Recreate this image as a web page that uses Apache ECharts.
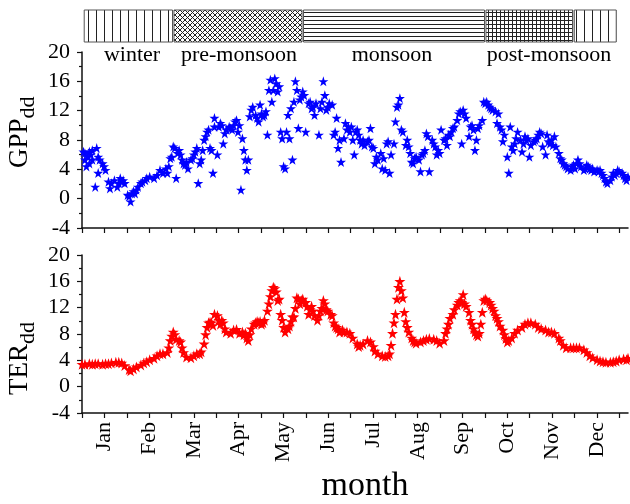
<!DOCTYPE html>
<html><head><meta charset="utf-8">
<script src="https://cdn.jsdelivr.net/npm/echarts@6/dist/echarts.min.js"></script>
<style>html,body{margin:0;padding:0;background:#fff}#c{width:630px;height:504px}</style>
</head><body><div id="c"></div>
<script>
// ---- data (day of year, value) ----
const months = ['Jan','Feb','Mar','Apr','May','Jun','Jul','Aug','Sep','Oct','Nov','Dec'];
const yMin = -4, yMax = 20, yStep = 4;

const gppPoints = [
[1,6.4],[2,5.3],[2,6.2],[3,4.4],[4,5.7],[5,4.8],[5,6.4],[6,6.0],[7,5.3],[7,6.6],[9,1.6],[10,6.9],[11,3.5],[11,5.7],[12,5.3],[14,4.8],[15,4.4],[16,3.9],[18,2.3],[19,1.4],[20,2.1],[22,2.5],[24,1.6],[25,2.1],[26,2.8],[27,2.3],[28,2.5],[29,2.1],
[31,0.5],[32,0.3],[33,-0.4],[34,0.7],[35,1.0],[36,0.7],[37,1.2],[38,1.6],[40,2.1],[41,2.3],[43,2.5],[44,2.8],[46,3.0],[49,2.8],[51,3.2],[53,3.9],[55,3.5],[57,4.1],[58,3.5],[59,4.4],
[60,5.5],[61,5.7],[62,7.1],[63,6.9],[64,2.8],[65,6.2],[66,6.6],[67,6.0],[68,5.3],[69,4.8],[70,4.6],[71,5.0],[72,4.1],[74,5.3],[75,5.5],[76,6.0],[77,6.4],[78,6.9],[79,2.1],[80,4.8],[81,5.3],[82,6.6],[83,8.0],[84,8.5],[85,9.1],[86,9.4],[87,6.9],[88,6.6],[89,3.5],
[90,11.0],[90,9.8],[92,6.0],[93,9.8],[94,10.3],[95,10.0],[96,7.5],[97,8.9],[98,9.4],[100,9.8],[101,9.6],[102,9.4],[103,10.0],[104,10.5],[105,10.7],[106,9.1],[107,10.0],[108,1.2],[109,8.2],[110,6.6],[111,5.3],[112,3.9],[113,5.3],[114,11.2],[115,12.1],[116,12.5],[118,11.4],[119,11.0],
[120,10.5],[121,12.8],[122,11.6],[123,11.2],[124,11.4],[125,11.9],[126,8.7],[127,14.8],[128,16.2],[129,13.2],[130,14.8],[131,16.4],[132,15.7],[133,14.6],[134,15.3],[135,9.1],[136,8.2],[137,4.4],[138,4.1],[139,9.1],[140,11.4],[141,8.2],[142,12.3],[143,5.3],[144,13.2],[145,16.0],[146,14.8],[147,9.6],[148,13.5],[149,13.9],
[150,14.6],[151,14.1],[152,9.1],[154,13.0],[155,13.2],[156,12.3],[157,12.5],[158,11.4],[159,13.0],[161,8.7],[162,12.3],[163,13.2],[164,16.0],[165,14.1],[166,12.1],[167,12.5],[168,13.0],[170,12.8],[171,8.7],[172,9.1],[173,11.0],[174,6.9],[175,8.0],[176,5.0],[178,8.2],[179,10.3],
[180,9.4],[181,9.8],[182,9.1],[183,9.8],[184,8.0],[185,6.0],[186,9.1],[187,9.4],[188,8.7],[189,8.0],[190,7.5],[191,8.0],[192,7.3],[194,7.8],[195,8.0],[196,9.6],[197,7.1],[198,6.9],[199,4.8],[200,5.7],[201,5.3],[203,6.2],[204,4.1],[205,5.5],[206,3.9],[207,7.5],[208,7.8],[209,3.5],
[210,6.0],[212,7.5],[213,10.5],[214,12.5],[215,12.8],[216,13.7],[217,9.4],[218,9.1],[220,7.3],[221,8.0],[222,7.1],[223,6.2],[224,5.0],[225,4.8],[226,5.5],[227,5.7],[229,5.3],[230,3.7],[231,6.0],[232,6.2],[233,6.6],[234,8.9],[235,8.5],[236,3.7],[238,8.0],[239,7.5],
[240,7.1],[241,6.0],[242,6.6],[243,6.2],[244,9.4],[246,8.0],[247,8.2],[248,7.3],[249,8.7],[250,8.5],[251,9.1],[252,9.6],[253,9.8],[255,10.7],[256,11.6],[257,11.9],[258,7.5],[259,12.1],[260,11.6],[261,11.0],[263,8.5],[264,9.8],[265,10.0],[266,9.4],[267,6.6],[268,8.0],[269,9.6],
[270,10.0],[272,10.7],[273,13.2],[274,13.0],[275,13.2],[276,12.8],[277,12.5],[278,12.3],[279,12.1],[281,11.9],[282,10.3],[283,11.6],[284,9.8],[285,9.4],[286,7.8],[287,8.7],[289,5.7],[290,3.5],[291,9.8],[292,7.1],[293,6.6],[294,7.5],[295,8.2],[296,9.1],[298,8.0],[299,6.4],
[300,7.5],[301,8.5],[302,8.0],[303,8.2],[304,5.7],[305,7.3],[307,7.8],[308,8.0],[309,8.2],[310,8.7],[311,9.1],[312,8.9],[313,7.1],[315,6.0],[316,8.7],[317,7.8],[318,7.5],[319,8.0],[320,7.3],[321,8.5],[322,7.1],[324,6.2],[325,5.5],[326,5.3],[327,4.8],[328,4.6],[329,4.4],
[330,4.1],[332,3.9],[333,4.4],[334,4.6],[335,4.1],[336,4.8],[337,5.3],[338,4.8],[339,4.4],[341,3.9],[342,4.1],[343,4.6],[344,4.4],[345,4.1],[346,3.9],[347,4.1],[348,3.7],[350,3.9],[351,3.7],[352,3.9],[353,3.5],[354,3.2],[355,2.8],[356,2.3],[357,2.1],[359,2.5],
[360,3.0],[361,3.5],[362,3.2],[363,3.5],[364,3.9],[365,3.7],[367,3.5],[368,3.2],[369,2.8],[370,2.5],[371,3.0]
];

const terPoints = [
[0,3.4],[2,3.4],[5,3.5],[7,3.4],[9,3.5],[11,3.5],[14,3.4],[16,3.5],[18,3.5],[20,3.6],[23,3.7],[25,3.7],[27,3.6],[29,3.2],
[32,2.6],[33,2.4],[35,2.7],[37,3.0],[40,3.3],[42,3.6],[44,3.8],[46,4.1],[49,4.3],[51,4.7],[53,5.0],[55,5.0],[58,5.2],[59,5.9],
[60,7.0],[61,7.7],[62,8.3],[63,7.9],[64,7.2],[66,7.0],[67,6.8],[68,5.9],[69,5.2],[71,4.5],[74,4.4],[76,4.7],[78,5.0],[80,5.0],[81,5.3],[83,6.5],[84,7.9],[85,9.0],[86,9.7],[87,9.8],[88,9.7],[89,9.3],
[90,11.0],[92,10.8],[93,10.1],[94,9.5],[95,10.1],[96,9.7],[97,8.8],[98,8.3],[101,8.1],[103,8.6],[105,8.7],[107,8.1],[109,8.3],[110,7.9],[111,8.1],[112,7.4],[113,7.0],[114,7.9],[115,8.8],[117,9.5],[118,9.7],[119,9.9],
[120,9.7],[121,9.9],[122,9.5],[123,9.7],[124,10.1],[126,11.5],[127,12.6],[128,13.7],[129,14.6],[130,15.1],[131,14.9],[132,14.4],[133,13.1],[134,13.3],[135,11.0],[136,10.1],[137,9.0],[138,8.3],[140,8.8],[141,9.2],[142,9.9],[143,10.6],[144,10.6],[145,11.9],[146,13.5],[147,13.3],[148,12.6],[149,13.1],
[150,13.3],[152,12.8],[153,12.2],[154,11.0],[155,11.7],[156,12.2],[157,11.5],[158,10.8],[160,10.1],[161,10.8],[162,11.5],[163,11.9],[164,13.1],[165,12.6],[166,11.7],[167,11.5],[169,11.0],[170,10.8],[171,9.7],[172,9.2],[173,9.0],[174,8.8],[175,8.3],[177,8.6],[178,8.3],
[180,8.3],[182,8.1],[184,7.4],[187,6.5],[188,6.1],[189,6.3],[191,6.5],[194,7.0],[196,6.8],[198,6.1],[199,5.4],[201,5.0],[204,4.7],[206,4.6],[208,4.7],[209,5.0],
[210,6.3],[211,8.1],[212,9.7],[213,11.0],[214,13.3],[215,15.1],[216,16.0],[217,14.6],[218,13.5],[219,11.3],[220,9.9],[221,9.0],[222,8.3],[224,7.4],[225,7.0],[226,6.8],[227,6.6],[230,6.8],[232,7.0],[234,7.2],[236,7.3],[239,7.2],
[241,7.0],[243,6.6],[246,7.0],[247,8.1],[248,8.8],[249,9.5],[250,10.4],[252,11.0],[253,11.7],[255,12.4],[256,12.8],[257,13.1],[258,12.8],[259,14.0],[260,12.6],[261,12.2],[263,11.3],[264,10.1],[265,9.5],[266,8.8],[267,8.3],[268,7.9],[269,7.7],
[270,8.1],[271,9.5],[272,11.3],[273,13.1],[274,13.3],[275,13.1],[277,12.8],[278,12.4],[279,11.9],[280,11.5],[281,10.8],[282,10.4],[283,9.9],[284,9.2],[286,8.6],[287,7.9],[288,7.3],[289,6.8],[290,7.0],[292,7.4],[294,8.1],[296,8.6],[299,9.0],
[301,9.5],[303,9.7],[305,9.7],[308,9.5],[310,9.0],[312,8.8],[315,8.6],[317,8.3],[319,8.3],[321,8.1],[324,7.4],[325,7.0],[327,6.3],[329,5.9],
[332,5.9],[334,5.9],[336,5.9],[338,5.9],[341,5.6],[343,5.2],[345,4.7],[347,4.4],[350,4.1],[352,3.9],[354,3.8],[356,3.7],[359,3.7],
[361,3.8],[363,3.9],[365,4.1],[368,4.2],[370,4.1],[371,4.3]
];

const seasonNames = ['winter','pre-monsoon','monsoon','post-monsoon','winter'];
const seasonStart = [1.5, 62.5, 150.5, 274.5, 334.5];
const seasonEnd   = [61.5, 149.5, 273.5, 333.5, 363];

// ---- layout / style ----
const FONT = '"Liberation Serif","Times New Roman",serif';
const dayMax = 371;
const tickStep = 365 / 24;
const tickValues = Array.from({length: 25}, (_, i) => i * tickStep);
const labelValues = months.map((_, i) => (2 * i + 1) * tickStep);
const star = 'path://M10,0 L12.25,6.91 L19.51,6.91 L13.63,11.18 L15.88,18.09 L10,13.82 L4.12,18.09 L6.37,11.18 L0.49,6.91 L7.75,6.91 Z';

function makePattern(w, h, draw) {
  const c = document.createElement('canvas');
  c.width = w; c.height = h;
  const g = c.getContext('2d');
  g.fillStyle = '#fff'; g.fillRect(0, 0, w, h);
  g.strokeStyle = '#222'; g.lineWidth = 1;
  draw(g, w, h);
  return {image: c, repeat: 'repeat'};
}
const patVertical = makePattern(8, 8, g => { g.beginPath(); g.moveTo(0.5, 0); g.lineTo(0.5, 8); g.stroke(); });
const patCross = makePattern(5, 5, g => { g.beginPath(); g.moveTo(0, 0); g.lineTo(5, 5); g.moveTo(5, 0); g.lineTo(0, 5); g.stroke(); });
const patHoriz = makePattern(8, 4, g => { g.beginPath(); g.moveTo(0, 0.5); g.lineTo(8, 0.5); g.stroke(); });
const patGrid = makePattern(4, 4, g => { g.beginPath(); g.moveTo(0.5, 0); g.lineTo(0.5, 4); g.moveTo(0, 0.5); g.lineTo(4, 0.5); g.stroke(); });
const seasonPatterns = [patVertical, patCross, patHoriz, patGrid, patVertical];

const axisLine = {show: true, onZero: false, lineStyle: {color: '#111', width: 1.5}};
function yAxis(gi) {
  return {
    gridIndex: gi, type: 'value', min: yMin, max: yMax, interval: yStep,
    axisLine: axisLine,
    axisTick: {show: true, length: 5, lineStyle: {color: '#111', width: 1.2}},
    minorTick: {show: true, splitNumber: 2, length: 3, lineStyle: {color: '#111', width: 1.2}},
    splitLine: {show: false},
    axisLabel: {margin: 12, color: '#000', fontFamily: FONT, fontSize: 22}
  };
}
function xAxis(gi, labels) {
  return {
    gridIndex: gi, type: 'value', min: 0, max: dayMax,
    axisLine: axisLine,
    axisTick: {show: true, length: 5, customValues: tickValues, lineStyle: {color: '#111', width: 1.2}},
    splitLine: {show: false},
    axisLabel: labels ? {
      show: true, customValues: labelValues, rotate: 90, margin: 9, color: '#000', fontFamily: FONT, fontSize: 22,
      formatter: v => months[Math.min(11, Math.floor(v / (365 / 12)))]
    } : {show: false},
    name: labels ? 'month' : '', nameLocation: 'middle', nameGap: 56,
    nameTextStyle: {fontFamily: FONT, fontSize: 34, color: '#000', padding: [0, 0, 0, 20]}
  };
}

const chart = echarts.init(document.getElementById('c'), null, {renderer: 'canvas'});

function yLabel(x, yBottom, main, sub) {
  const c = document.createElement('canvas').getContext('2d');
  c.font = '27px ' + FONT;
  const w = c.measureText(main).width;
  return {
    type: 'group', x: x, y: yBottom, rotation: Math.PI / 2,
    children: [
      {type: 'text', x: 0, y: 0, style: {text: main, fontFamily: FONT, fontSize: 27, fill: '#000', verticalAlign: 'bottom', align: 'left'}},
      {type: 'text', x: w, y: 6, style: {text: sub, fontFamily: FONT, fontSize: 22, fill: '#000', verticalAlign: 'bottom', align: 'left'}}
    ]
  };
}
const seasonLabelX = [132, 239, 392, 549];
const seasonLabelText = ['winter', 'pre-monsoon', 'monsoon', 'post-monsoon'];

chart.setOption({
  animation: false,
  backgroundColor: '#fff',
  grid: [
    {left: 82, top: 52, width: 546, height: 176},
    {left: 82, top: 255, width: 546, height: 177},
    {left: 82, top: 10, width: 546, height: 32}
  ],
  xAxis: [xAxis(0, false), xAxis(1, true),
    {gridIndex: 2, type: 'value', min: 0, max: dayMax, show: false}],
  yAxis: [yAxis(0), yAxis(1), {gridIndex: 2, type: 'value', min: 0, max: 1, show: false}],
  series: [
    {type: 'scatter', xAxisIndex: 0, yAxisIndex: 0, data: gppPoints, symbol: star, symbolSize: 10,
     itemStyle: {color: '#0000ff', opacity: 1}},
    {type: 'scatter', xAxisIndex: 1, yAxisIndex: 1, data: terPoints, symbol: star, symbolSize: 11,
     itemStyle: {color: '#ff0000', opacity: 1}},
    {type: 'custom', xAxisIndex: 2, yAxisIndex: 2, silent: true,
     data: seasonStart.map((s, i) => [s, seasonEnd[i]]),
     renderItem: (params, api) => {
       const p0 = api.coord([api.value(0), 1]);
       const p1 = api.coord([api.value(1), 0]);
       return {type: 'rect', shape: {x: p0[0], y: p0[1], width: p1[0] - p0[0], height: p1[1] - p0[1]},
               style: {fill: seasonPatterns[params.dataIndex], stroke: '#555', lineWidth: 1}};
     }}
  ],
  graphic: [
    yLabel(33, 168, 'GPP', 'dd'),
    yLabel(33, 395, 'TER', 'dd'),
    ...seasonLabelText.map((t, i) => ({type: 'text', x: seasonLabelX[i], y: 55,
      style: {text: t, fontFamily: FONT, fontSize: 22, fill: '#000', align: 'center', verticalAlign: 'middle'}}))
  ]
});
</script>
</body></html>
